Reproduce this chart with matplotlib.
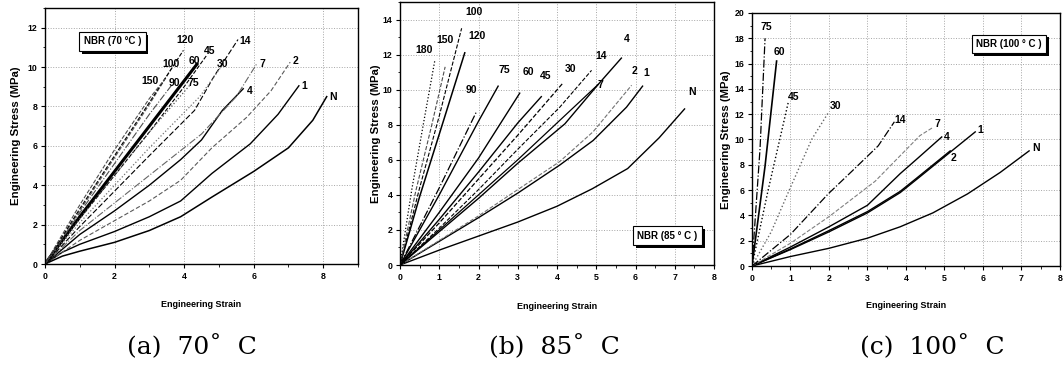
import matplotlib
matplotlib.use('Agg')
import matplotlib.pyplot as plt
from matplotlib import patheffects
from matplotlib.ticker import MultipleLocator

plt.rcParams['font.family'] = ['Liberation Sans', 'DejaVu Sans']

# ---- (a) 70 C : aging time labels, strain / stress points
a_names = ['N', '1', '2', '4', '7', '14', '30', '45', '60', '75', '90', '100', '120', '150']
a_strain = [
    [0, 0.5, 1, 2, 3, 3.9, 4.8, 6.0, 7.0, 7.7, 8.1],
    [0, 0.5, 1, 2, 3, 3.9, 4.8, 5.9, 6.7, 7.3],
    [0, 1, 2, 3, 3.9, 4.8, 5.8, 6.5, 7.05],
    [0, 1, 2, 3, 3.9, 4.5, 5.1, 5.7],
    [0, 1, 2, 3, 4.5, 5.5, 6.1],
    [0, 1, 2, 3, 4.3, 4.85, 5.55],
    [0, 1, 2, 3, 4.45, 5.1],
    [0, 1, 2, 3, 4, 4.65],
    [0, 1, 2, 3, 4.37],
    [0, 1, 2, 3, 4.15],
    [0, 1, 2, 3, 3.65],
    [0, 1, 2, 3, 3.7],
    [0, 1, 2, 3, 3.98],
    [0, 1, 2, 3, 3.45],
]
a_stress = [
    [0, 0.4, 0.65, 1.1, 1.7, 2.4, 3.4, 4.7, 5.9, 7.3, 8.5],
    [0, 0.6, 1.0, 1.65, 2.4, 3.2, 4.6, 6.1, 7.6, 9.05],
    [0, 1.2, 2.2, 3.2, 4.25, 5.9, 7.45, 8.8, 10.25],
    [0, 1.5, 2.7, 4.0, 5.3, 6.3, 7.8, 8.9],
    [0, 1.7, 3.1, 4.5, 6.6, 8.5, 10.2],
    [0, 1.9, 3.7, 5.5, 7.8, 9.5, 11.4],
    [0, 2.1, 4.0, 5.9, 8.5, 10.1],
    [0, 2.3, 4.5, 6.7, 9.0, 10.6],
    [0, 2.4, 4.7, 7.0, 10.15],
    [0, 2.3, 4.5, 6.7, 9.05],
    [0, 2.6, 5.1, 7.6, 9.1],
    [0, 2.7, 5.4, 8.1, 10.1],
    [0, 2.8, 5.5, 8.2, 10.85],
    [0, 3.0, 5.8, 8.4, 9.4],
]

# ---- (b) 85 C
b_names = ['N', '1', '2', '4', '7', '14', '30', '45', '60', '75', '90', '100', '120', '150', '180']
b_strain = [
    [0, 1, 2, 3, 4, 4.9, 5.8, 6.6, 7.25],
    [0, 1, 2, 3, 4.07, 4.92, 5.77, 6.18],
    [0, 1, 2, 3, 4.07, 4.92, 5.9],
    [0, 1, 2, 3, 4.2, 5.05, 5.64],
    [0, 1, 2, 3, 4, 5.05],
    [0, 1, 2, 3, 4.07, 4.88],
    [0, 1, 2, 3, 4.16],
    [0, 1, 2, 3, 3.6],
    [0, 1, 2, 3.05],
    [0, 1, 2, 2.5],
    [0, 1, 1.95],
    [0, 0.5, 1.0, 1.57],
    [0, 0.5, 1.02, 1.65],
    [0, 0.4, 0.8, 1.15],
    [0, 0.3, 0.6, 0.89],
]
b_stress = [
    [0, 0.85, 1.65, 2.45, 3.35, 4.35, 5.5, 7.25, 8.9],
    [0, 1.35, 2.7, 4.1, 5.7, 7.1, 9.0, 10.2],
    [0, 1.4, 2.8, 4.3, 5.9, 7.6, 10.25],
    [0, 1.9, 3.8, 5.8, 8.05, 10.3, 11.8],
    [0, 2.0, 4.0, 6.0, 8.1, 10.3],
    [0, 2.1, 4.3, 6.6, 9.0, 11.1],
    [0, 2.4, 4.9, 7.4, 10.4],
    [0, 2.6, 5.3, 8.1, 9.6],
    [0, 3.0, 6.1, 9.8],
    [0, 4.0, 8.2, 10.2],
    [0, 4.4, 8.75],
    [0, 4.4, 8.5, 13.5],
    [0, 3.9, 7.6, 12.1],
    [0, 4.2, 7.9, 11.3],
    [0, 4.3, 8.1, 11.7],
]

# ---- (c) 100 C
c_names = ['N', '1', '2', '4', '7', '14', '30', '45', '60', '75']
c_strain = [
    [0, 1, 2, 3, 3.85, 4.7, 5.6, 6.45, 7.2],
    [0, 1, 2, 3, 3.85, 4.3, 5.15, 5.8],
    [0, 1, 2, 3, 3.85, 4.3, 5.15],
    [0, 1, 2, 3, 3.85, 4.3, 4.93],
    [0, 1, 2, 3.2, 4.36, 4.7],
    [0, 1, 1.98, 2.6, 3.28, 3.7],
    [0, 0.5, 0.94, 1.55, 2.0],
    [0, 0.42, 0.94],
    [0, 0.34, 0.64],
    [0, 0.21, 0.34],
]
c_stress = [
    [0, 0.75, 1.4, 2.2, 3.1, 4.2, 5.7, 7.4, 9.1],
    [0, 1.3, 2.7, 4.2, 5.8, 6.9, 9.0, 10.6],
    [0, 1.35, 2.8, 4.3, 5.9, 7.0, 9.1],
    [0, 1.5, 3.1, 4.8, 7.3, 8.5, 10.2],
    [0, 1.8, 3.9, 6.7, 10.3, 10.95],
    [0, 2.5, 5.7, 7.5, 9.5, 11.4],
    [0, 2.7, 5.8, 10.0, 12.2],
    [0, 6.0, 12.9],
    [0, 7.9, 16.2],
    [0, 9.3, 18.0],
]

# line styles: name -> (linestyle, colour, width)
a_style = {'N': ('-', 'k', 1.1), '1': ('-', 'k', 1.0), '2': ((0, (4, 2)), '0.35', 0.8),
           '4': ('-', 'k', 1.0), '7': ('-.', '0.4', 0.8), '14': ((0, (5, 2)), 'k', 0.8),
           '30': (':', '0.45', 0.9), '45': ('--', 'k', 0.8), '60': ('-', 'k', 2.2),
           '75': (':', '0.3', 0.9), '90': ('-.', '0.3', 0.8), '100': ('--', '0.35', 0.8),
           '120': ('--', 'k', 0.8), '150': ('--', '0.3', 0.8)}
b_style = {'N': ('-', 'k', 1.0), '1': ('-', 'k', 1.0), '2': ('--', '0.45', 0.8),
           '4': ('-', 'k', 1.0), '7': ('-', 'k', 0.9), '14': ('--', 'k', 0.8),
           '30': ('--', 'k', 0.9), '45': ('-', 'k', 1.0), '60': ('-', 'k', 1.0),
           '75': ('-', 'k', 1.0), '90': ('-.', 'k', 0.9), '100': ('--', 'k', 0.8),
           '120': ('-', 'k', 1.1), '150': ('--', '0.3', 0.8), '180': (':', 'k', 0.9)}
c_style = {'N': ('-', 'k', 1.0), '1': ('-', 'k', 1.0), '2': ('-', 'k', 1.0),
           '4': ('-', 'k', 1.0), '7': ('--', '0.5', 0.8), '14': ('-.', 'k', 0.9),
           '30': (':', '0.4', 1.0), '45': (':', 'k', 1.0), '60': ('-', 'k', 1.2),
           '75': ('-.', 'k', 0.9)}

# label offsets from the curve end, in pixels
a_off = {'N': (6, 0), '1': (5, 0), '2': (5, 1), '4': (7, -2), '7': (5, -1), '14': (7, -1),
         '30': (0, 1), '45': (3, 4), '60': (-3, 3), '75': (4, 3), '90': (2, 2),
         '100': (-3, 1), '120': (2, 10), '150': (-15, -2)}
b_off = {'N': (7, 17), '1': (4, 13), '2': (3, 14), '4': (5, 19), '7': (2, -1), '14': (10, 14),
         '30': (7, 14), '45': (4, 21), '60': (9, 21), '75': (6, 16), '90': (-5, 22),
         '100': (12, 16), '120': (12, 17), '150': (0, 27), '180': (-11, 10)}
c_off = {'N': (7, 3), '1': (5, 2), '2': (3, -7), '4': (5, 0), '7': (5, 3), '14': (6, 2),
         '30': (7, 6), '45': (5, 6), '60': (3, 9), '75': (1, 11)}

fig = plt.figure(figsize=(10.63, 3.71), dpi=100)

panels = [
    # axes rect, names, strain, stress, style, offsets, xlim, ylim, xmaj, ymaj, box text, box pos, ylabel x
    ([0.0423, 0.2884, 0.2945, 0.690], a_names, a_strain, a_stress, a_style, a_off,
     9, 13, 2, 2, 'NBR (70 °C )', (1.94, 11.3), -0.075),
    ([0.3763, 0.2857, 0.2954, 0.709], b_names, b_strain, b_stress, b_style, b_off,
     8, 15, 1, 2, 'NBR (85 ° C )', (6.81, 1.68), -0.062),
    ([0.7074, 0.2830, 0.2897, 0.682], c_names, c_strain, c_stress, c_style, c_off,
     8, 20, 1, 2, 'NBR (100 ° C )', (6.67, 17.55), -0.068),
]

for rect, names, xs, ys, style, off, xmax, ymax, xmaj, ymaj, box, boxpos, ylx in panels:
    ax = fig.add_axes(rect)
    for name, x, y in zip(names, xs, ys):
        ls, col, lw = style[name]
        ax.plot(x, y, linestyle=ls, color=col, linewidth=lw)
        ax.annotate(name, (x[-1], y[-1]), xytext=off[name], textcoords='offset pixels',
                    ha='center', va='center', fontsize=7.5, fontweight='bold')
    ax.set_xlim(0, xmax)
    ax.set_ylim(0, ymax)
    ax.xaxis.set_major_locator(MultipleLocator(xmaj))
    ax.xaxis.set_minor_locator(MultipleLocator(xmaj / 2))
    ax.yaxis.set_major_locator(MultipleLocator(ymaj))
    ax.yaxis.set_minor_locator(MultipleLocator(ymaj / 2))
    ax.tick_params(which='major', direction='out', length=3, width=0.8, labelsize=6.3, pad=2.5)
    ax.tick_params(which='minor', direction='out', length=1.8, width=0.6)
    for lab in ax.get_xticklabels() + ax.get_yticklabels():
        lab.set_fontweight('bold')
    ax.grid(True, which='major', linestyle=':', color='0.65', linewidth=0.7)
    for sp in ax.spines.values():
        sp.set_linewidth(1.0)
    ax.set_xlabel('Engineering Strain', fontsize=6.5, fontweight='bold')
    ax.xaxis.set_label_coords(0.5, -0.14)
    ax.set_ylabel('Engineering Stress (MPa)', fontsize=8.2, fontweight='bold')
    ax.yaxis.set_label_coords(ylx, 0.5)
    t = ax.text(boxpos[0], boxpos[1], box, ha='center', va='center', fontsize=7,
                fontweight='bold', zorder=5,
                bbox=dict(boxstyle='square,pad=0.45', fc='white', ec='black', lw=0.8))
    t.get_bbox_patch().set_path_effects([
        patheffects.SimplePatchShadow(offset=(2, -2), shadow_rgbFace='black', alpha=1),
        patheffects.Normal()])

# captions
for xc, cap in [(0.181, '(a)  70˚  C'), (0.522, '(b)  85˚  C'), (0.877, '(c)  100˚  C')]:
    fig.text(xc, 0.065, cap, ha='center', va='center', fontsize=18,
             family='DejaVu Serif')

fig.savefig('out.png', dpi=100)
